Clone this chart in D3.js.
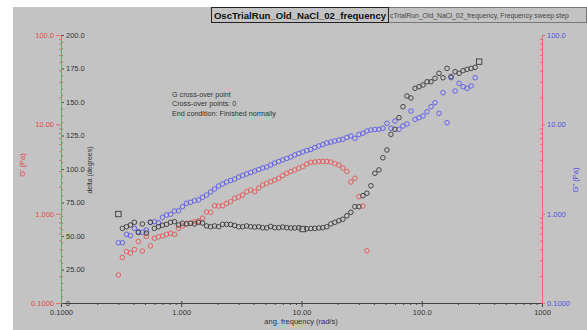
<!doctype html>
<html lang="en">
<head>
  <meta charset="utf-8">
  <title>OscTrialRun_Old_NaCl_02_frequency</title>
  <style>
  body { margin: 0; background: #fff; }
  svg { display: block; font-family: "Liberation Sans", Arial, sans-serif; }
  .axis text { font-size: 7.5px; }
  .note { font-size: 7.2px; fill: #333; }
  </style>
</head>
<body>
  <div id="chart"></div>
  <script src="https://d3js.org/d3.v7.min.js"></script>
  <script>
// angular frequency (rad/s)
var freq = [0.300,0.324,0.350,0.378,0.408,0.440,0.475,0.513,0.554,0.598,
  0.646,0.698,0.754,0.814,0.879,0.949,1.024,1.106,1.194,1.290,
  1.392,1.503,1.623,1.753,1.893,2.044,2.207,2.383,2.573,2.778,
  3.000,3.239,3.498,3.777,4.078,4.403,4.755,5.134,5.543,5.986,
  6.463,6.979,7.536,8.137,8.786,9.487,10.24,11.06,11.94,12.90,
  13.92,15.03,16.23,17.53,18.93,20.44,22.07,23.83,25.73,27.78,
  30.00,32.39,34.98,37.77,40.78,44.03,47.55,51.34,55.43,59.86,
  64.63,69.79,75.36,81.37,87.86,94.87,102.4,110.6,119.4,129.0,
  139.2,150.3,162.3,175.3,189.3,204.4,220.7,238.3,257.3,277.8,
  300.0];

// G' (Pa)
var gPrime = [0.206,0.323,0.377,0.363,0.397,0.488,0.382,0.555,0.435,0.530,
  0.552,0.562,0.587,0.603,0.587,0.686,0.728,0.776,0.780,0.813,
  0.828,0.888,1.044,1.036,1.228,1.218,1.228,1.300,1.361,1.486,
  1.537,1.618,1.762,1.841,1.762,1.939,2.094,2.188,2.280,2.383,
  2.489,2.675,2.831,2.966,3.083,3.221,3.357,3.597,3.758,3.787,
  3.837,3.837,3.837,3.787,3.644,3.506,3.246,2.966,2.262,2.489,
  1.549,1.218,0.385];

// G'' (Pa)
var gDouble = [0.473,0.473,0.587,0.567,0.686,0.628,0.618,0.656,0.801,0.813,
  0.792,0.911,0.966,0.984,1.071,1.079,1.197,1.306,1.340,1.397,
  1.422,1.525,1.618,1.749,1.888,2.041,2.148,2.263,2.350,2.443,
  2.574,2.674,2.780,2.890,3.005,3.122,3.245,3.328,3.506,3.693,
  3.838,3.990,4.147,4.309,4.538,4.717,4.902,5.095,5.228,5.507,
  5.723,5.948,6.181,6.342,6.508,6.677,6.798,7.125,7.404,6.973,
  7.695,7.935,8.418,8.640,8.753,8.799,9.030,10.27,9.030,10.89,
  8.799,9.58,10.09,14.10,11.38,11.86,12.40,13.85,15.74,17.46,
  13.30,22.60,10.43,33.27,23.62,28.79,26.38,25.32,26.87,33.27];

// delta (degrees)
var delta = [66.4,55.7,56.9,58.2,60.2,52.6,59.0,52.2,60.2,55.7,
  56.9,58.0,58.7,60.2,60.7,58.2,59.5,59.0,59.5,59.0,
  60.2,59.7,57.5,56.9,57.5,56.9,58.7,58.7,58.6,57.8,
  56.9,56.9,57.5,56.9,56.7,56.9,56.2,56.0,57.1,56.2,
  56.2,56.7,56.2,56.0,56.0,56.2,55.2,55.4,55.6,55.7,
  56.0,56.2,56.9,59.0,60.2,61.4,62.5,65.1,67.7,71.9,
  71.9,80.1,81.9,87.5,96.8,99.3,108.4,114.2,125.9,129.6,
  138.3,146.5,154.5,153.0,160.2,161.4,162.7,165.1,165.1,167.7,
  171.4,168.1,175.1,168.9,172.6,171.4,173.4,174.4,175.1,175.9,
  180.1];
var deltaSquares = [0, 46, 90];

var freqTicks = [0.1, 1, 10, 100, 1000];
var freqLabels = ["0.1000", "1.000", "10.00", "100.0", "1000"];
var modTicks = [0.1, 1, 10, 100];
var modLabels = ["0.1000", "1.000", "10.00", "100.0"];
var deltaTicks = [0, 25, 50, 75, 100, 125, 150, 175, 200];
var deltaLabels = ["0", "25.00", "50.00", "75.00", "100.0", "125.0", "150.0", "175.0", "200.0"];
var notes = ["G cross-over point", "Cross-over points: 0", "End condition: Finished normally"];

(function() {
  var width = 587, height = 330;
  var left = 61, right = 542, top = 35, bottom = 303;
  var red = "#e04a4a", blue = "#5252e0", dark = "#333";

  var svg = d3.select("#chart").append("svg")
      .attr("width", width)
      .attr("height", height);

  svg.append("rect").attr("x", 13).attr("y", 7)
      .attr("width", width - 13).attr("height", height - 7)
      .attr("fill", "#c3c3c3");

  var x = d3.scaleLog().domain([0.1, 1000]).range([left, right]);
  var yG = d3.scaleLog().domain([0.1, 100]).range([bottom, top]);
  var yD = d3.scaleLinear().domain([0, 200]).range([bottom, top]);

  function minors(lo, hi) {
    var out = [];
    for (var d = lo; d < hi; d *= 10)
      for (var k = 2; k <= 9; k++) out.push(d * k);
    return out;
  }

  function axisGroup(tx, ty, axis, stroke, textFill, keepPath) {
    var g = svg.append("g").attr("class", "axis")
        .attr("transform", "translate(" + tx + "," + ty + ")")
        .call(axis);
    if (!keepPath) g.select("path").remove();
    g.selectAll("path, line").attr("stroke", stroke);
    g.selectAll("text").attr("fill", textFill);
    return g;
  }

  // x axis
  axisGroup(0, bottom, d3.axisBottom(x).tickValues(minors(0.1, 1000)).tickFormat("").tickSize(2), "#444", dark, false);
  axisGroup(0, bottom, d3.axisTop(x).tickValues(freqTicks).tickFormat("").tickSize(2), "#444", dark, false);
  axisGroup(0, bottom, d3.axisBottom(x).tickValues(freqTicks)
      .tickFormat(function(d, i) { return freqLabels[i]; }).tickSize(4).tickPadding(3).tickSizeOuter(0), "#444", dark, true);

  // delta axis, labels inside the plot
  axisGroup(left, 0, d3.axisRight(yD).tickValues(d3.range(0, 200, 5)).tickFormat("").tickSize(2), "#8a6a6a", dark, false);
  axisGroup(left, 0, d3.axisRight(yD).tickValues(deltaTicks)
      .tickFormat(function(d, i) { return deltaLabels[i]; }).tickSize(3).tickPadding(2), "#555", dark, false);

  // G' axis, left
  axisGroup(left, 0, d3.axisLeft(yG).tickValues(minors(0.1, 100)).tickFormat("").tickSize(2), "#e07070", red, false);
  axisGroup(left, 0, d3.axisLeft(yG).tickValues(modTicks)
      .tickFormat(function(d, i) { return modLabels[i]; }).tickSize(5).tickPadding(2).tickSizeOuter(0), "#e07070", red, true);

  // G'' axis, right
  axisGroup(right, 0, d3.axisLeft(yG).tickValues(minors(0.1, 100)).tickFormat("").tickSize(2), "#e07070", blue, false);
  axisGroup(right, 0, d3.axisRight(yG).tickValues(modTicks)
      .tickFormat(function(d, i) { return modLabels[i]; }).tickSize(3).tickPadding(2).tickSizeOuter(0), "#e07070", blue, true);

  // axis titles
  svg.append("text").attr("transform", "translate(25,165) rotate(-90)")
      .attr("text-anchor", "middle").attr("font-size", 7.5).attr("fill", red).text("G' (Pa)");
  svg.append("text").attr("transform", "translate(92,170) rotate(-90)")
      .attr("text-anchor", "middle").attr("font-size", 7).attr("fill", dark).text("delta (degrees)");
  svg.append("text").attr("transform", "translate(578,180) rotate(-90)")
      .attr("text-anchor", "middle").attr("font-size", 7.5).attr("fill", blue).text("G'' (Pa)");
  svg.append("text").attr("x", 301).attr("y", 324)
      .attr("text-anchor", "middle").attr("font-size", 7.5).attr("fill", dark).text("ang. frequency (rad/s)");

  // notes
  svg.selectAll(".note").data(notes).enter().append("text")
      .attr("class", "note").attr("x", 172)
      .attr("y", function(d, i) { return 97 + i * 9.3; })
      .text(function(d) { return d; });

  // data
  var dG1 = gPrime.map(function(v, i) { return [freq[i], v]; });
  var dG2 = gDouble.map(function(v, i) { return [freq[i], v]; });
  var dD = delta.map(function(v, i) { return [freq[i], v, i]; });

  svg.append("g").selectAll("circle").data(dG1).enter().append("circle")
      .attr("cx", function(d) { return x(d[0]); }).attr("cy", function(d) { return yG(d[1]); })
      .attr("r", 2.3).attr("fill", "none").attr("stroke", "#e05a5a").attr("stroke-width", 0.9);

  svg.append("g").selectAll("circle").data(dG2).enter().append("circle")
      .attr("cx", function(d) { return x(d[0]); }).attr("cy", function(d) { return yG(d[1]); })
      .attr("r", 2.3).attr("fill", "none").attr("stroke", "#5c5ce6").attr("stroke-width", 0.9);

  var dg = svg.append("g");
  dg.selectAll("circle").data(dD.filter(function(d) { return deltaSquares.indexOf(d[2]) < 0; })).enter().append("circle")
      .attr("cx", function(d) { return x(d[0]); }).attr("cy", function(d) { return yD(d[1]); })
      .attr("r", 2.3).attr("fill", "none").attr("stroke", "#3a3a3a").attr("stroke-width", 0.9);
  dg.selectAll("rect").data(dD.filter(function(d) { return deltaSquares.indexOf(d[2]) >= 0; })).enter().append("rect")
      .attr("x", function(d) { return x(d[0]) - 2.7; }).attr("y", function(d) { return yD(d[1]) - 2.7; })
      .attr("width", 5.4).attr("height", 5.4)
      .attr("fill", "none").attr("stroke", "#3a3a3a").attr("stroke-width", 0.9);

  // title boxes
  svg.append("rect").attr("x", 388.5).attr("y", 7.5).attr("width", 198).attr("height", 15)
      .attr("fill", "#c3c3c3").attr("stroke", "#777").attr("stroke-width", 1);
  svg.append("text").attr("x", 390).attr("y", 18).attr("font-size", 6.8).attr("fill", "#444")
      .text("cTrialRun_Old_NaCl_02_frequency, Frequency sweep step");
  svg.append("rect").attr("x", 211.5).attr("y", 7.5).attr("width", 177).attr("height", 15)
      .attr("fill", "#c3c3c3").attr("stroke", "#222").attr("stroke-width", 1);
  svg.append("text").attr("x", 300).attr("y", 19).attr("text-anchor", "middle")
      .attr("font-size", 9.6).attr("font-weight", "bold").attr("fill", "#111")
      .text("OscTrialRun_Old_NaCl_02_frequency");
})();
  </script>
</body>
</html>
